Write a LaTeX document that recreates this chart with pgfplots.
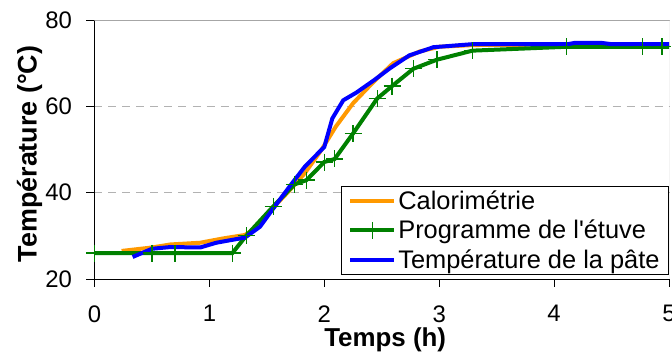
\documentclass[border=0pt]{standalone}
\usepackage{fontspec}
\setmainfont{Liberation Sans}
\usepackage{pgfplots}
\pgfplotsset{compat=1.18}
\definecolor{corange}{RGB}{255,153,0}
\definecolor{cgreen}{RGB}{0,128,0}
\definecolor{cblue}{RGB}{0,0,255}
\begin{document}
\begin{tikzpicture}
\begin{axis}[
  name=ax,
  scale only axis,
  width=574.5bp, height=259bp,
  xmin=0, xmax=5, ymin=20, ymax=80,
  xtick={0,1,2,3,4,5}, ytick={20,40,60,80},
  axis lines*=left,
  axis line style={-, black, line width=0.8bp},
  tick align=outside,
  major tick length=8bp,
  tick style={black, line width=0.8bp},
  /pgf/number format/assume math mode=true,
  tick label style={font=\fontsize{24}{28}\selectfont},
  xticklabel style={yshift=-15bp},
  yticklabel style={xshift=-11bp},
  ymajorgrids,
  grid style={gray!60, line width=0.9bp, dash pattern=on 8bp off 6bp},
  xlabel={\textbf{Temps (h)}},
  ylabel={\textbf{Température (°C)}},
  every axis x label/.style={at={(axis description cs:0.506,-0.2355)}, anchor=center, font=\fontsize{26}{30}\selectfont},
  every axis y label/.style={at={(axis description cs:-0.1131,0.483)}, rotate=90, anchor=center, font=\fontsize{27}{30}\selectfont},
  legend style={font=\fontsize{25.5}{28}\selectfont, at={(1,0.0154)}, anchor=south east,
    draw=black, line width=0.8bp, inner xsep=7bp, inner ysep=3bp, row sep=5bp,
    cells={anchor=west}},
  legend image code/.code={\draw[#1, mark indices={2}] plot coordinates {(0bp,0bp) (22bp,0bp) (44bp,0bp)};},
]
\draw[gray!70, line width=0.8bp] (rel axis cs:0,1) -- (rel axis cs:1,1) -- (rel axis cs:1,0);
\addplot[corange, line width=4bp] coordinates {
(0.236,26.5) (0.5,27.3) (0.66,28.0) (0.92,28.4) (1.12,29.4) (1.31,30.2)
(1.44,32.5) (1.555,36.5) (1.70,40.6) (1.83,44.5) (1.975,49.9) (2.10,55.3)
(2.25,60.7) (2.43,65.7) (2.60,70.0) (2.83,72.7) (3.0,73.8) (3.3,74.2)
(4.0,74.3) (5,74.3)};
\addlegendentry{Calorimétrie}
\addplot[cgreen, line width=4bp, mark=+, mark size=8.5bp,
  mark options={solid, line width=1.3bp}, mark indices={1,...,19}] coordinates {
(0,26) (0.5,26) (0.7,26) (1.2,26) (1.32,30) (1.555,36.8) (1.74,41.9)
(1.845,42.9) (2.0,47.1) (2.09,47.8) (2.25,53.7) (2.46,61.8) (2.59,64.7)
(2.775,68.7) (2.98,70.8) (3.29,72.9) (4.11,73.8) (4.77,73.8) (4.94,73.8)
(5.0,73.8)};
\addlegendentry{Programme de l\textquotesingle étuve}
\addplot[cblue, line width=4bp] coordinates {
(0.332,25.1) (0.5,27.0) (0.66,27.4) (0.92,27.3) (1.06,28.4) (1.31,29.6)
(1.44,32.1) (1.555,36.3) (1.70,41.5) (1.83,46.0) (2.00,50.6) (2.07,57.2)
(2.165,61.4) (2.28,63.2) (2.43,66.0) (2.57,68.8) (2.74,71.8) (2.95,73.7)
(3.29,74.4) (4.12,74.4) (4.18,74.7) (4.41,74.7) (4.5,74.4) (5,74.4)};
\addlegendentry{Température de la pâte}
\end{axis}
\pgfresetboundingbox
\path[use as bounding box] ([xshift=-94.5bp,yshift=-82bp]ax.south west) rectangle ([xshift=3bp,yshift=20bp]ax.north east);
\end{tikzpicture}
\end{document}
